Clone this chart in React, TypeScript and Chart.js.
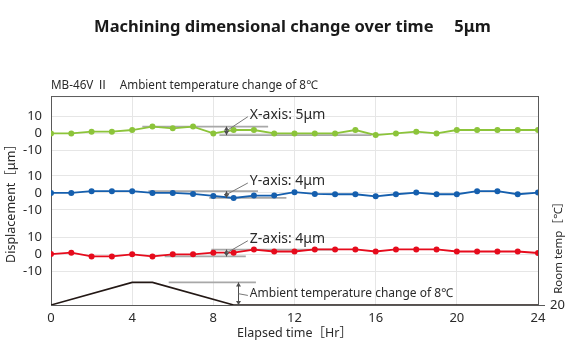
import React, { useEffect, useRef } from "react";
import { Chart, registerables } from "chart.js";

Chart.register(...registerables);

// ---------- data ----------
const HOURS = [0, 1, 2, 3, 4, 5, 6, 7, 8, 9, 10, 11, 12, 13, 14, 15, 16, 17, 18, 19, 20, 21, 22, 23, 24];
const X_AXIS_UM = [0, 0, 1, 1, 2, 4, 3, 4, 0, 2, 2, 0, 0, 0, 0, 2, -1, 0, 1, 0, 2, 2, 2, 2, 2];
const Y_AXIS_UM = [0, 0, 1, 1, 1, 0, 0, -0.6, -1.8, -3, -1.6, -1.6, 0.4, -0.6, -0.8, -0.8, -2, -0.8, 0.2, -0.8, -0.8, 1, 1, -0.8, 0.2];
const Z_AXIS_UM = [0, 0.8, -1.4, -1.4, -0.2, -1.4, -0.2, -0.2, 0.8, 0.8, 2.6, 1.5, 1.5, 2.7, 2.7, 2.7, 1.5, 2.7, 2.7, 2.7, 1.5, 1.5, 1.5, 1.5, 0.6];
const TEMP_HOURS = [0, 4, 5, 9, 24];
const TEMP_C = [20, 28, 28, 20, 20];
const X_TICKS = [0, 4, 8, 12, 16, 20, 24];
const BAND_TICKS = [-10, 0, 10];
const TEMP_TICKS = [20];

const TITLE = "Machining dimensional change over time\u3000 5\u03bcm";
const SUBTITLE = "MB-46V \u2161\u3000Ambient temperature change of 8\u2103";
const X_TITLE = "Elapsed time\uff3bHr\uff3d";
const Y_TITLE = "Displacement\uff3b\u03bcm\uff3d";
const T_TITLE = "Room temp\uff3b\u2103\uff3d";

// dimension annotations (hours / values)
const X_DIM = { upper: [4.5, 10.7, 4], lower: [8.3, 15.8, -1], arrowAt: 8.6, labelAt: 9.8, labelLevel: 11, label: "X-axis: 5\u03bcm" };
const Y_DIM = { upper: [4.8, 10.2, 1], lower: [7.8, 11.6, -3], arrowAt: 8.6, labelAt: 9.8, labelLevel: 7, label: "Y-axis: 4\u03bcm" };
const Z_DIM = { upper: [7.9, 13.9, 2.6], lower: [5.6, 9.6, -1.4], arrowAt: 8.6, labelAt: 9.8, labelLevel: 9, label: "Z-axis: 4\u03bcm" };
const T_DIM = { upper: [5.8, 10.1, 28], arrowAt: 9.2, labelAt: 9.8, labelLevel: 24.1, top: 28, bottom: 20, label: "Ambient temperature change of 8\u2103" };

// ---------- layout constants ----------
const BANDS = [
  { key: "x", offset: 101, color: "#8cc43a" },
  { key: "y", offset: 66, color: "#155fae" },
  { key: "z", offset: 30, color: "#e60b1c" },
];
const FONT = "'Noto Sans', 'Noto Sans CJK JP', sans-serif";
const GRID = "#e6e6e6";
const BORDER = "#595959";
const DIM_GRAY = "#a8a8a8";
const TEXT = "#2a2a2a";

function series(values: number[], offset: number) {
  return HOURS.map((h, i) => ({ x: h, y: values[i] + offset }));
}
function dimLine(spec: number[], offset: number) {
  return [
    { x: spec[0], y: spec[2] + offset },
    { x: spec[1], y: spec[2] + offset },
  ];
}

function drawArrowHead(ctx: CanvasRenderingContext2D, x: number, y: number, dir: number) {
  ctx.beginPath();
  ctx.moveTo(x, y);
  ctx.lineTo(x - 2.5, y + dir * 4);
  ctx.lineTo(x + 2.5, y + dir * 4);
  ctx.closePath();
  ctx.fill();
}

const annotPlugin = {
  id: "annot",
  afterDatasetsDraw(chart: any) {
    const { ctx, chartArea, scales } = chart;
    const xs = scales.x;
    const ys = scales.y;
    const yt = scales.yT;
    ctx.save();
    ctx.strokeStyle = BORDER;
    ctx.lineWidth = 1;
    ctx.beginPath();
    ctx.moveTo(chartArea.left, chartArea.top + 0.5);
    ctx.lineTo(chartArea.right, chartArea.top + 0.5);
    ctx.stroke();

    const dims = [
      { d: X_DIM, scale: ys, off: BANDS[0].offset, top: X_DIM.upper[2], bottom: X_DIM.lower[2], size: 14 },
      { d: Y_DIM, scale: ys, off: BANDS[1].offset, top: Y_DIM.upper[2], bottom: Y_DIM.lower[2], size: 14 },
      { d: Z_DIM, scale: ys, off: BANDS[2].offset, top: Z_DIM.upper[2], bottom: Z_DIM.lower[2], size: 14 },
      { d: T_DIM, scale: yt, off: 0, top: T_DIM.top, bottom: T_DIM.bottom, size: 12 },
    ];
    dims.forEach(({ d, scale, off, top, bottom, size }) => {
      const ax = Math.round(xs.getPixelForValue(d.arrowAt)) + 0.5;
      const y1 = scale.getPixelForValue(top + off);
      const y2 = scale.getPixelForValue(bottom + off);
      ctx.strokeStyle = "#4d4d4d";
      ctx.fillStyle = "#4d4d4d";
      ctx.lineWidth = 1;
      ctx.beginPath();
      ctx.moveTo(ax, y1);
      ctx.lineTo(ax, y2);
      ctx.stroke();
      drawArrowHead(ctx, ax, y1, 1);
      drawArrowHead(ctx, ax, y2, -1);
      const lx = xs.getPixelForValue(d.labelAt);
      const ly = scale.getPixelForValue(d.labelLevel + off);
      const my = (y1 + y2) / 2;
      ctx.strokeStyle = "#777";
      ctx.beginPath();
      ctx.moveTo(ax, my);
      ctx.lineTo(lx - 2, ly + (ly < my ? 2 : -2));
      ctx.stroke();
      ctx.fillStyle = TEXT;
      ctx.font = `${size}px ${FONT}`;
      ctx.textAlign = "left";
      ctx.textBaseline = "middle";
      ctx.fillText(d.label, lx, ly);
    });

    ctx.save();
    ctx.translate(chartArea.right + 21, chartArea.bottom - 60);
    ctx.rotate(-Math.PI / 2);
    ctx.fillStyle = TEXT;
    ctx.font = `11.5px ${FONT}`;
    ctx.textAlign = "center";
    ctx.textBaseline = "middle";
    ctx.fillText(T_TITLE, 0, 0);
    ctx.restore();
    ctx.restore();
  },
};

export default function App() {
  const canvasRef = useRef<HTMLCanvasElement | null>(null);

  useEffect(() => {
    const canvas = canvasRef.current;
    if (!canvas) return;
    Chart.defaults.font.family = FONT;
    Chart.defaults.color = TEXT;

    const dataLine = (label: string, values: number[], band: any) => ({
      label,
      data: series(values, band.offset),
      borderColor: band.color,
      backgroundColor: band.color,
      borderWidth: 1.8,
      pointRadius: 3,
      pointBorderWidth: 0,
      pointBackgroundColor: band.color,
      yAxisID: "y",
      order: 1,
    });
    const grayLine = (pts: any[], axis: string) => ({
      label: "dim",
      data: pts,
      borderColor: DIM_GRAY,
      borderWidth: 1.8,
      pointRadius: 0,
      yAxisID: axis,
      order: 10,
    });

    const chart = new Chart(canvas, {
      type: "line",
      data: {
        datasets: [
          dataLine("X-axis", X_AXIS_UM, BANDS[0]),
          dataLine("Y-axis", Y_AXIS_UM, BANDS[1]),
          dataLine("Z-axis", Z_AXIS_UM, BANDS[2]),
          {
            label: "Room temp",
            data: TEMP_HOURS.map((h, i) => ({ x: h, y: TEMP_C[i] })),
            borderColor: "#231815",
            borderWidth: 1.6,
            pointRadius: 0,
            yAxisID: "yT",
            order: 1,
          },
          grayLine(dimLine(X_DIM.upper, BANDS[0].offset), "y"),
          grayLine(dimLine(X_DIM.lower, BANDS[0].offset), "y"),
          grayLine(dimLine(Y_DIM.upper, BANDS[1].offset), "y"),
          grayLine(dimLine(Y_DIM.lower, BANDS[1].offset), "y"),
          grayLine(dimLine(Z_DIM.upper, BANDS[2].offset), "y"),
          grayLine(dimLine(Z_DIM.lower, BANDS[2].offset), "y"),
          grayLine(dimLine(T_DIM.upper, 0), "yT"),
        ] as any,
      },
      options: {
        animation: false,
        responsive: true,
        maintainAspectRatio: false,
        layout: { padding: 0 },
        plugins: {
          legend: { display: false },
          tooltip: { enabled: false },
          title: {
            display: true,
            text: TITLE,
            color: "#1a1a1a",
            font: { size: 16.5, weight: "bold", family: FONT },
            padding: { top: 17.7, bottom: 10 },
          },
          subtitle: {
            display: true,
            text: SUBTITLE,
            align: "start",
            fullSize: false,
            color: TEXT,
            font: { size: 11.7, family: FONT },
            padding: { top: 30.7, bottom: 3.8 },
          },
        },
        scales: {
          x: {
            type: "linear",
            min: 0,
            max: 24,
            afterBuildTicks: (s: any) => {
              s.ticks = X_TICKS.map((v) => ({ value: v }));
            },
            afterFit: (s: any) => {
              s.height = 57;
            },
            ticks: { padding: 5, font: { size: 13 }, color: TEXT },
            grid: { color: GRID, drawTicks: false },
            border: { display: true, color: BORDER, width: 1 },
            title: {
              display: true,
              text: X_TITLE,
              font: { size: 12.5 },
              color: TEXT,
              padding: { top: 0, bottom: 21.5 },
            },
          },
          y: {
            type: "linear",
            position: "left",
            min: 0,
            max: 123,
            afterBuildTicks: (s: any) => {
              s.ticks = BANDS.flatMap((b) => BAND_TICKS.map((v) => ({ value: b.offset + v })));
            },
            afterFit: (s: any) => {
              s.width = 51;
            },
            ticks: {
              padding: 9,
              font: { size: 13 },
              color: TEXT,
              callback: (value: any) => {
                const b = BANDS.find((bb) => Math.abs(Number(value) - bb.offset) <= 10.01);
                return b ? String(Math.round(Number(value) - b.offset)) : "";
              },
            },
            grid: { color: GRID, drawTicks: false },
            border: { display: true, color: BORDER, width: 1 },
            title: {
              display: true,
              text: Y_TITLE,
              font: { size: 12.5 },
              color: TEXT,
              padding: { top: 4, bottom: 0 },
            },
          },
          yT: {
            type: "linear",
            position: "right",
            min: 20,
            max: 94,
            afterBuildTicks: (s: any) => {
              s.ticks = TEMP_TICKS.map((v) => ({ value: v }));
            },
            afterFit: (s: any) => {
              s.width = 47;
            },
            ticks: { padding: 5, font: { size: 13 }, color: TEXT },
            grid: { drawOnChartArea: false, drawTicks: true, tickLength: 7, color: BORDER },
            border: { display: true, color: BORDER, width: 1 },
          },
        },
      } as any,
      plugins: [annotPlugin as any],
    });

    return () => {
      chart.destroy();
    };
  }, []);

  return (
    <div style={{ position: "absolute", left: 0, top: 0, width: 585, height: 362, background: "#fff" }}>
      <canvas ref={canvasRef} />
    </div>
  );
}
